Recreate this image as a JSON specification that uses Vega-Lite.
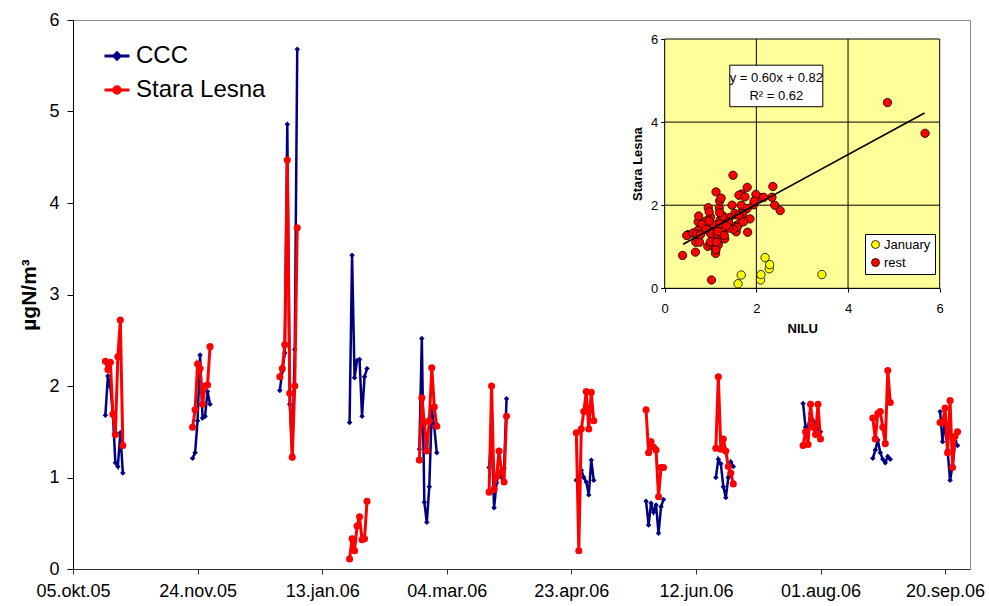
{
"$schema": "https://vega.github.io/schema/vega-lite/v6.json",
"width": 897, "height": 549,
"autosize": {"type": "none"},
"padding": {"left": 73, "top": 20, "right": 19, "bottom": 37},
"background": "white",
"config": {"font": "Liberation Sans", "view": {"stroke": "#8c8c8c", "strokeWidth": 1}, "axis": {"labelColor": "black", "titleColor": "black"}, "legend": {"labelColor": "black"}},
"data": {"values": [
{"date":"2005-10-18","CCC":1.68,"Stara Lesna":2.27,"p":1,"g":"rest"},
{"date":"2005-10-19","CCC":2.11,"Stara Lesna":2.18,"p":1,"g":"rest"},
{"date":"2005-10-20","CCC":1.99,"Stara Lesna":2.26,"p":1,"g":"rest"},
{"date":"2005-10-21","CCC":1.70,"Stara Lesna":1.69,"p":1,"g":"rest"},
{"date":"2005-10-22","CCC":1.16,"Stara Lesna":1.47,"p":1,"g":"rest"},
{"date":"2005-10-23","CCC":1.12,"Stara Lesna":2.32,"p":1,"g":"rest"},
{"date":"2005-10-24","CCC":1.49,"Stara Lesna":2.72,"p":1,"g":"rest"},
{"date":"2005-10-25","CCC":1.05,"Stara Lesna":1.35,"p":1,"g":"rest"},
{"date":"2005-11-22","CCC":1.21,"Stara Lesna":1.55,"p":2,"g":"rest"},
{"date":"2005-11-23","CCC":1.27,"Stara Lesna":1.74,"p":2,"g":"rest"},
{"date":"2005-11-24","CCC":1.62,"Stara Lesna":2.24,"p":2,"g":"rest"},
{"date":"2005-11-25","CCC":2.34,"Stara Lesna":2.19,"p":2,"g":"rest"},
{"date":"2005-11-26","CCC":1.65,"Stara Lesna":1.80,"p":2,"g":"rest"},
{"date":"2005-11-27","CCC":1.67,"Stara Lesna":2.00,"p":2,"g":"rest"},
{"date":"2005-11-28","CCC":1.94,"Stara Lesna":2.01,"p":2,"g":"rest"},
{"date":"2005-11-29","CCC":1.80,"Stara Lesna":2.43,"p":2,"g":"rest"},
{"date":"2005-12-27","CCC":1.95,"Stara Lesna":2.10,"p":3,"g":"rest"},
{"date":"2005-12-28","CCC":2.16,"Stara Lesna":2.19,"p":3,"g":"rest"},
{"date":"2005-12-29","CCC":2.36,"Stara Lesna":2.45,"p":3,"g":"rest"},
{"date":"2005-12-30","CCC":4.86,"Stara Lesna":4.47,"p":3,"g":"rest"},
{"date":"2005-12-31","CCC":1.80,"Stara Lesna":1.92,"p":3,"g":"rest"},
{"date":"2006-01-01","CCC":1.25,"Stara Lesna":1.22,"p":3,"g":"rest"},
{"date":"2006-01-02","CCC":2.40,"Stara Lesna":2.00,"p":3,"g":"rest"},
{"date":"2006-01-03","CCC":5.68,"Stara Lesna":3.73,"p":3,"g":"rest"},
{"date":"2006-01-24","CCC":1.60,"Stara Lesna":0.11,"p":4,"g":"January"},
{"date":"2006-01-25","CCC":3.43,"Stara Lesna":0.33,"p":4,"g":"January"},
{"date":"2006-01-26","CCC":2.09,"Stara Lesna":0.20,"p":4,"g":"January"},
{"date":"2006-01-27","CCC":2.28,"Stara Lesna":0.47,"p":4,"g":"January"},
{"date":"2006-01-28","CCC":2.29,"Stara Lesna":0.57,"p":4,"g":"January"},
{"date":"2006-01-29","CCC":1.67,"Stara Lesna":0.32,"p":4,"g":"January"},
{"date":"2006-01-30","CCC":2.10,"Stara Lesna":0.33,"p":4,"g":"January"},
{"date":"2006-01-31","CCC":2.19,"Stara Lesna":0.74,"p":4,"g":"January"},
{"date":"2006-02-21","CCC":1.31,"Stara Lesna":1.19,"p":5,"g":"rest"},
{"date":"2006-02-22","CCC":2.52,"Stara Lesna":1.87,"p":5,"g":"rest"},
{"date":"2006-02-23","CCC":0.73,"Stara Lesna":1.60,"p":5,"g":"rest"},
{"date":"2006-02-24","CCC":0.51,"Stara Lesna":1.29,"p":5,"g":"rest"},
{"date":"2006-02-25","CCC":0.90,"Stara Lesna":1.62,"p":5,"g":"rest"},
{"date":"2006-02-26","CCC":1.75,"Stara Lesna":2.20,"p":5,"g":"rest"},
{"date":"2006-02-27","CCC":1.55,"Stara Lesna":1.77,"p":5,"g":"rest"},
{"date":"2006-02-28","CCC":1.27,"Stara Lesna":1.56,"p":5,"g":"rest"},
{"date":"2006-03-21","CCC":1.11,"Stara Lesna":0.84,"p":6,"g":"rest"},
{"date":"2006-03-22","CCC":1.47,"Stara Lesna":2.00,"p":6,"g":"rest"},
{"date":"2006-03-23","CCC":0.67,"Stara Lesna":0.87,"p":6,"g":"rest"},
{"date":"2006-03-24","CCC":0.94,"Stara Lesna":1.01,"p":6,"g":"rest"},
{"date":"2006-03-25","CCC":1.05,"Stara Lesna":1.29,"p":6,"g":"rest"},
{"date":"2006-03-26","CCC":1.00,"Stara Lesna":1.06,"p":6,"g":"rest"},
{"date":"2006-03-27","CCC":1.10,"Stara Lesna":0.95,"p":6,"g":"rest"},
{"date":"2006-03-28","CCC":1.86,"Stara Lesna":1.67,"p":6,"g":"rest"},
{"date":"2006-04-25","CCC":0.97,"Stara Lesna":1.49,"p":7,"g":"rest"},
{"date":"2006-04-26","CCC":1.02,"Stara Lesna":0.20,"p":7,"g":"rest"},
{"date":"2006-04-27","CCC":1.08,"Stara Lesna":1.53,"p":7,"g":"rest"},
{"date":"2006-04-28","CCC":1.00,"Stara Lesna":1.72,"p":7,"g":"rest"},
{"date":"2006-04-29","CCC":0.95,"Stara Lesna":1.94,"p":7,"g":"rest"},
{"date":"2006-04-30","CCC":0.81,"Stara Lesna":1.53,"p":7,"g":"rest"},
{"date":"2006-05-01","CCC":1.19,"Stara Lesna":1.93,"p":7,"g":"rest"},
{"date":"2006-05-02","CCC":0.97,"Stara Lesna":1.62,"p":7,"g":"rest"},
{"date":"2006-05-23","CCC":0.74,"Stara Lesna":1.74,"p":8,"g":"rest"},
{"date":"2006-05-24","CCC":0.48,"Stara Lesna":1.27,"p":8,"g":"rest"},
{"date":"2006-05-25","CCC":0.72,"Stara Lesna":1.39,"p":8,"g":"rest"},
{"date":"2006-05-26","CCC":0.62,"Stara Lesna":1.33,"p":8,"g":"rest"},
{"date":"2006-05-27","CCC":0.70,"Stara Lesna":1.30,"p":8,"g":"rest"},
{"date":"2006-05-28","CCC":0.39,"Stara Lesna":0.79,"p":8,"g":"rest"},
{"date":"2006-05-29","CCC":0.68,"Stara Lesna":1.11,"p":8,"g":"rest"},
{"date":"2006-05-30","CCC":0.76,"Stara Lesna":1.11,"p":8,"g":"rest"},
{"date":"2006-06-20","CCC":1.00,"Stara Lesna":1.32,"p":9,"g":"rest"},
{"date":"2006-06-21","CCC":1.20,"Stara Lesna":2.10,"p":9,"g":"rest"},
{"date":"2006-06-22","CCC":1.15,"Stara Lesna":1.31,"p":9,"g":"rest"},
{"date":"2006-06-23","CCC":0.90,"Stara Lesna":1.42,"p":9,"g":"rest"},
{"date":"2006-06-24","CCC":0.78,"Stara Lesna":1.29,"p":9,"g":"rest"},
{"date":"2006-06-25","CCC":1.00,"Stara Lesna":1.12,"p":9,"g":"rest"},
{"date":"2006-06-26","CCC":1.17,"Stara Lesna":1.05,"p":9,"g":"rest"},
{"date":"2006-06-27","CCC":1.12,"Stara Lesna":0.93,"p":9,"g":"rest"},
{"date":"2006-07-25","CCC":1.81,"Stara Lesna":1.35,"p":10,"g":"rest"},
{"date":"2006-07-26","CCC":1.55,"Stara Lesna":1.50,"p":10,"g":"rest"},
{"date":"2006-07-27","CCC":1.56,"Stara Lesna":1.36,"p":10,"g":"rest"},
{"date":"2006-07-28","CCC":1.70,"Stara Lesna":1.80,"p":10,"g":"rest"},
{"date":"2006-07-29","CCC":1.62,"Stara Lesna":1.55,"p":10,"g":"rest"},
{"date":"2006-07-30","CCC":1.58,"Stara Lesna":1.47,"p":10,"g":"rest"},
{"date":"2006-07-31","CCC":1.53,"Stara Lesna":1.80,"p":10,"g":"rest"},
{"date":"2006-08-01","CCC":1.50,"Stara Lesna":1.42,"p":10,"g":"rest"},
{"date":"2006-08-22","CCC":1.21,"Stara Lesna":1.65,"p":11,"g":"rest"},
{"date":"2006-08-23","CCC":1.30,"Stara Lesna":1.42,"p":11,"g":"rest"},
{"date":"2006-08-24","CCC":1.41,"Stara Lesna":1.70,"p":11,"g":"rest"},
{"date":"2006-08-25","CCC":1.27,"Stara Lesna":1.72,"p":11,"g":"rest"},
{"date":"2006-08-26","CCC":1.20,"Stara Lesna":1.55,"p":11,"g":"rest"},
{"date":"2006-08-27","CCC":1.16,"Stara Lesna":1.37,"p":11,"g":"rest"},
{"date":"2006-08-28","CCC":1.23,"Stara Lesna":2.17,"p":11,"g":"rest"},
{"date":"2006-08-29","CCC":1.20,"Stara Lesna":1.82,"p":11,"g":"rest"},
{"date":"2006-09-18","CCC":1.72,"Stara Lesna":1.60,"p":12,"g":"rest"},
{"date":"2006-09-19","CCC":1.39,"Stara Lesna":1.60,"p":12,"g":"rest"},
{"date":"2006-09-20","CCC":1.62,"Stara Lesna":1.76,"p":12,"g":"rest"},
{"date":"2006-09-21","CCC":1.30,"Stara Lesna":1.27,"p":12,"g":"rest"},
{"date":"2006-09-22","CCC":0.97,"Stara Lesna":1.84,"p":12,"g":"rest"},
{"date":"2006-09-23","CCC":1.13,"Stara Lesna":1.11,"p":12,"g":"rest"},
{"date":"2006-09-24","CCC":1.40,"Stara Lesna":1.45,"p":12,"g":"rest"},
{"date":"2006-09-25","CCC":1.35,"Stara Lesna":1.50,"p":12,"g":"rest"}
]},
"layer": [
{
 "transform": [{"fold": ["CCC", "Stara Lesna"], "as": ["series", "value"]}],
 "encoding": {
  "x": {"field": "date", "type": "temporal",
   "scale": {"type": "utc", "nice": false, "domain": [{"year":2005,"month":10,"date":5,"utc":true},{"year":2006,"month":9,"date":30,"utc":true}]},
   "axis": {"title": null, "grid": false, "values": [{"year":2005,"month":10,"date":5,"utc":true},{"year":2005,"month":11,"date":24,"utc":true},{"year":2006,"month":1,"date":13,"utc":true},{"year":2006,"month":3,"date":4,"utc":true},{"year":2006,"month":4,"date":23,"utc":true},{"year":2006,"month":6,"date":12,"utc":true},{"year":2006,"month":8,"date":1,"utc":true},{"year":2006,"month":9,"date":20,"utc":true}],
    "labelExpr": "utcFormat(datum.value, '%d') + '.' + ['jan','feb','mar','apr','mai','jun','jul','aug','sep','okt','nov','des'][utcmonth(datum.value)] + '.' + utcFormat(datum.value, '%y')",
    "labelFontSize": 18, "labelFlush": false, "labelOverlap": false, "labelBound": false, "tickSize": 5, "tickColor": "#333333", "domainColor": "#333333", "labelPadding": 8}},
  "y": {"field": "value", "type": "quantitative", "scale": {"domain": [0, 6], "nice": false},
   "axis": {"title": "µgN/m³", "titleFontSize": 21, "titleFontWeight": "bold", "titlePadding": 9, "grid": false, "values": [0,1,2,3,4,5,6], "format": "d", "labelFontSize": 18, "tickSize": 6, "labelPadding": 8, "tickColor": "black", "domainColor": "black", "labelOverlap": false}},
  "color": {"field": "series", "type": "nominal", "scale": {"domain": ["CCC", "Stara Lesna"], "range": ["#000080", "#FF0000"]},
   "legend": {"orient": "none", "legendX": 30, "legendY": 22, "title": null, "labelFontSize": 24, "symbolSize": 625, "labelOffset": 5, "rowPadding": 8, "padding": 0,
    "encode": {"symbols": {"update": {
      "shape": {"signal": "datum.value === 'CCC' ? 'M-1,0L1,0M0,-0.26L0.26,0L0,0.26L-0.26,0Z' : 'M-1,0L1,0M-0.26,0A0.26,0.26,0,1,1,0.26,0A0.26,0.26,0,1,1,-0.26,0Z'"},
      "strokeWidth": {"value": 3},
      "fill": {"signal": "datum.value === 'CCC' ? '#000080' : '#FF0000'"},
      "stroke": {"signal": "datum.value === 'CCC' ? '#000080' : '#FF0000'"},
      "opacity": {"value": 1}}}}}},
  "detail": {"field": "p"}
 },
 "layer": [
  {"transform": [{"filter": "datum.series === 'CCC'"}], "mark": {"type": "line", "strokeWidth": 2.5}},
  {"transform": [{"filter": "datum.series === 'CCC'"}], "mark": {"type": "point", "shape": "diamond", "filled": true, "size": 30, "opacity": 1}},
  {"transform": [{"filter": "datum.series === 'Stara Lesna'"}], "mark": {"type": "line", "strokeWidth": 3}},
  {"transform": [{"filter": "datum.series === 'Stara Lesna'"}], "mark": {"type": "point", "shape": "circle", "filled": true, "size": 50, "opacity": 1}}
 ]
},
{
 "layer": [
  {"data": {"values": [{}]}, "mark": {"type": "rect", "fill": "#FFFF99", "stroke": "black", "strokeWidth": 1},
   "encoding": {
    "x": {"datum": 0, "type": "quantitative", "scale": {"domain": [0, 6], "nice": false, "range": [591.7, 866.7]}},
    "x2": {"datum": 6},
    "y": {"datum": 0, "type": "quantitative", "scale": {"domain": [0, 6], "nice": false, "range": [268.3, 19]}},
    "y2": {"datum": 6}}},
  {"data": {"values": [{}]}, "mark": {"type": "rule", "color": "black", "strokeWidth": 1}, "encoding": {"x": {"datum": 2, "type": "quantitative"}, "y": {"datum": 0, "type": "quantitative"}, "y2": {"datum": 6}}},
  {"data": {"values": [{}]}, "mark": {"type": "rule", "color": "black", "strokeWidth": 1}, "encoding": {"x": {"datum": 4, "type": "quantitative"}, "y": {"datum": 0, "type": "quantitative"}, "y2": {"datum": 6}}},
  {"data": {"values": [{}]}, "mark": {"type": "rule", "color": "black", "strokeWidth": 1}, "encoding": {"y": {"datum": 2, "type": "quantitative"}, "x": {"datum": 0, "type": "quantitative"}, "x2": {"datum": 6}}},
  {"data": {"values": [{}]}, "mark": {"type": "rule", "color": "black", "strokeWidth": 1}, "encoding": {"y": {"datum": 4, "type": "quantitative"}, "x": {"datum": 0, "type": "quantitative"}, "x2": {"datum": 6}}},
  {"mark": {"type": "point", "shape": "circle", "filled": true, "size": 70, "stroke": "black", "strokeWidth": 0.8, "opacity": 1},
   "encoding": {
    "x": {"field": "CCC", "type": "quantitative",
     "axis": {"orient": "bottom", "offset": -281, "values": [0,2,4,6], "format": "d", "grid": false, "title": "NILU", "titleFontSize": 13, "titleFontWeight": "bold", "titlePadding": 7, "labelFontSize": 13, "labelPadding": 10, "tickSize": 4, "tickColor": "black", "domainColor": "black", "labelFlush": false, "labelOverlap": false}},
    "y": {"field": "Stara Lesna", "type": "quantitative",
     "axis": {"orient": "left", "offset": -591.7, "values": [0,2,4,6], "format": "d", "grid": false, "title": "Stara Lesna", "titleFontSize": 13, "titleFontWeight": "bold", "titlePadding": 6, "labelFontSize": 13, "labelPadding": 3, "tickSize": 4, "tickColor": "black", "domainColor": "black", "labelFlush": false, "labelOverlap": false}},
    "fill": {"field": "g", "type": "nominal", "scale": {"domain": ["January", "rest"], "range": ["#FFFF00", "#FF0000"]},
     "legend": {"orient": "none", "legendX": 792, "legendY": 214, "title": null, "fillColor": "white", "strokeColor": "black", "padding": 4, "labelFontSize": 13, "symbolSize": 64, "symbolType": "circle", "symbolStrokeColor": "black", "symbolStrokeWidth": 0.8, "labelOffset": 2, "rowPadding": 4}}}},
  {"data": {"values": [{"nx": 0.4, "ny": 1.06}, {"nx": 5.67, "ny": 4.22}]}, "mark": {"type": "line", "color": "black", "strokeWidth": 1.6},
   "encoding": {"x": {"field": "nx", "type": "quantitative"}, "y": {"field": "ny", "type": "quantitative"}}},
  {"data": {"values": [{}]}, "mark": {"type": "rect", "fill": "white", "stroke": "black", "strokeWidth": 1},
   "encoding": {"x": {"datum": 1.42, "type": "quantitative"}, "x2": {"datum": 3.45}, "y": {"datum": 4.37, "type": "quantitative"}, "y2": {"datum": 5.37}}},
  {"data": {"values": [{}]}, "mark": {"type": "text", "fontSize": 13, "color": "black", "align": "center", "baseline": "middle"},
   "encoding": {"x": {"datum": 2.435, "type": "quantitative"}, "y": {"datum": 5.07, "type": "quantitative"}, "text": {"value": "y = 0.60x + 0.82"}}},
  {"data": {"values": [{}]}, "mark": {"type": "text", "fontSize": 13, "color": "black", "align": "center", "baseline": "middle"},
   "encoding": {"x": {"datum": 2.435, "type": "quantitative"}, "y": {"datum": 4.63, "type": "quantitative"}, "text": {"value": "R² = 0.62"}}}
 ]
}
],
"resolve": {"scale": {"x": "independent", "y": "independent"}, "axis": {"x": "independent", "y": "independent"}}
}
